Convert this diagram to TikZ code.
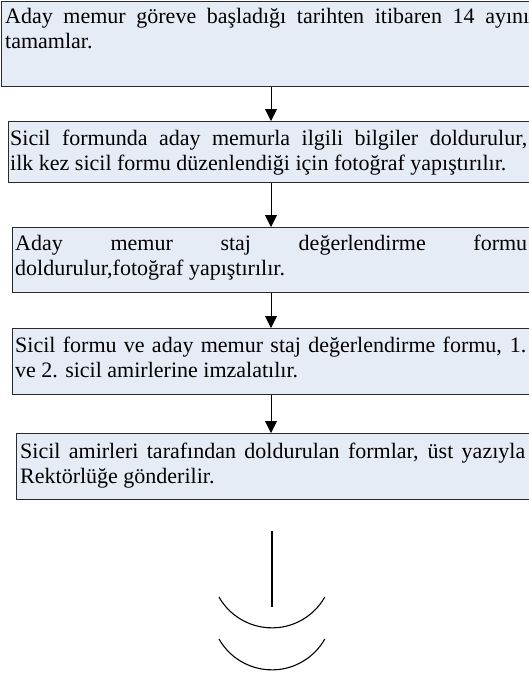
\documentclass[tikz,border=0pt]{standalone}
\usepackage{fontspec}
\setmainfont{Liberation Serif}
\usetikzlibrary{arrows.meta}
\definecolor{boxfill}{HTML}{E6ECF6}
\definecolor{boxline}{HTML}{2A2A2A}
\begin{document}
\begin{tikzpicture}[x=1pt,y=-1pt,
  box/.style={draw=boxline, line width=0.9pt, fill=boxfill, inner sep=0pt, anchor=north west},
  txt/.style={anchor=north west, inner sep=0pt, align=left, font=\fontsize{22}{25}\selectfont},
  arr/.style={draw=black, line width=0.9pt, -{Triangle[length=12pt,width=12pt]}},
  orn/.style={line width=1.1pt}]
\useasboundingbox (0,0) rectangle (528,675);
\coordinate (ax) at (271,0);
% boxes
\node[box, minimum width=545pt, minimum height=85pt] (b1) at (1,1) {};
\node[box, minimum width=535pt, minimum height=61pt] (b2) at (8,121) {};
\node[box, minimum width=535pt, minimum height=65pt] (b3) at (12,227) {};
\node[box, minimum width=535pt, minimum height=66pt] (b4) at (12,328) {};
\node[box, minimum width=535pt, minimum height=66pt] (b5) at (16,433) {};
% texts
\node[txt] (t1) at ([xshift=4pt,yshift=-7pt]b1.north west)
  {\makebox[524pt][s]{Aday memur göreve başladığı tarihten itibaren 14 ayını}\\tamamlar.};
\node[txt] (t2) at ([xshift=2pt,yshift=-9pt]b2.north west)
  {\makebox[517pt][s]{Sicil formunda aday memurla ilgili bilgiler doldurulur,}\\ilk kez sicil formu düzenlendiği için fotoğraf yapıştırılır.};
\node[txt] (t3) at ([xshift=3pt,yshift=-8pt]b3.north west)
  {\makebox[512pt][s]{Aday memur staj değerlendirme formu}\\doldurulur,fotoğraf yapıştırılır.};
\node[txt] (t4) at ([xshift=3pt,yshift=-9pt]b4.north west)
  {\makebox[511pt][s]{Sicil formu ve aday memur staj değerlendirme formu, 1.}\\ve 2. sicil amirlerine imzalatılır.};
\node[txt] (t5) at ([xshift=4pt,yshift=-10pt]b5.north west)
  {\makebox[505pt][s]{Sicil amirleri tarafından doldurulan formlar, üst yazıyla}\\Rektörlüğe gönderilir.};
% connectors
\draw[arr] (b1.south -| ax) -- (b2.north -| ax);
\draw[arr] (b2.south -| ax) -- (b3.north -| ax);
\draw[arr] (b3.south -| ax) -- (b4.north -| ax);
\draw[arr] (b4.south -| ax) -- (b5.north -| ax);
% bottom ornament
\draw[orn] (272,531) -- (272,607);
\draw[orn] (219,597) arc[start angle=150.5, end angle=29.5, radius=60.8];
\draw[orn] (219,639) arc[start angle=150.5, end angle=29.5, radius=60.8];
\end{tikzpicture}
\end{document}
